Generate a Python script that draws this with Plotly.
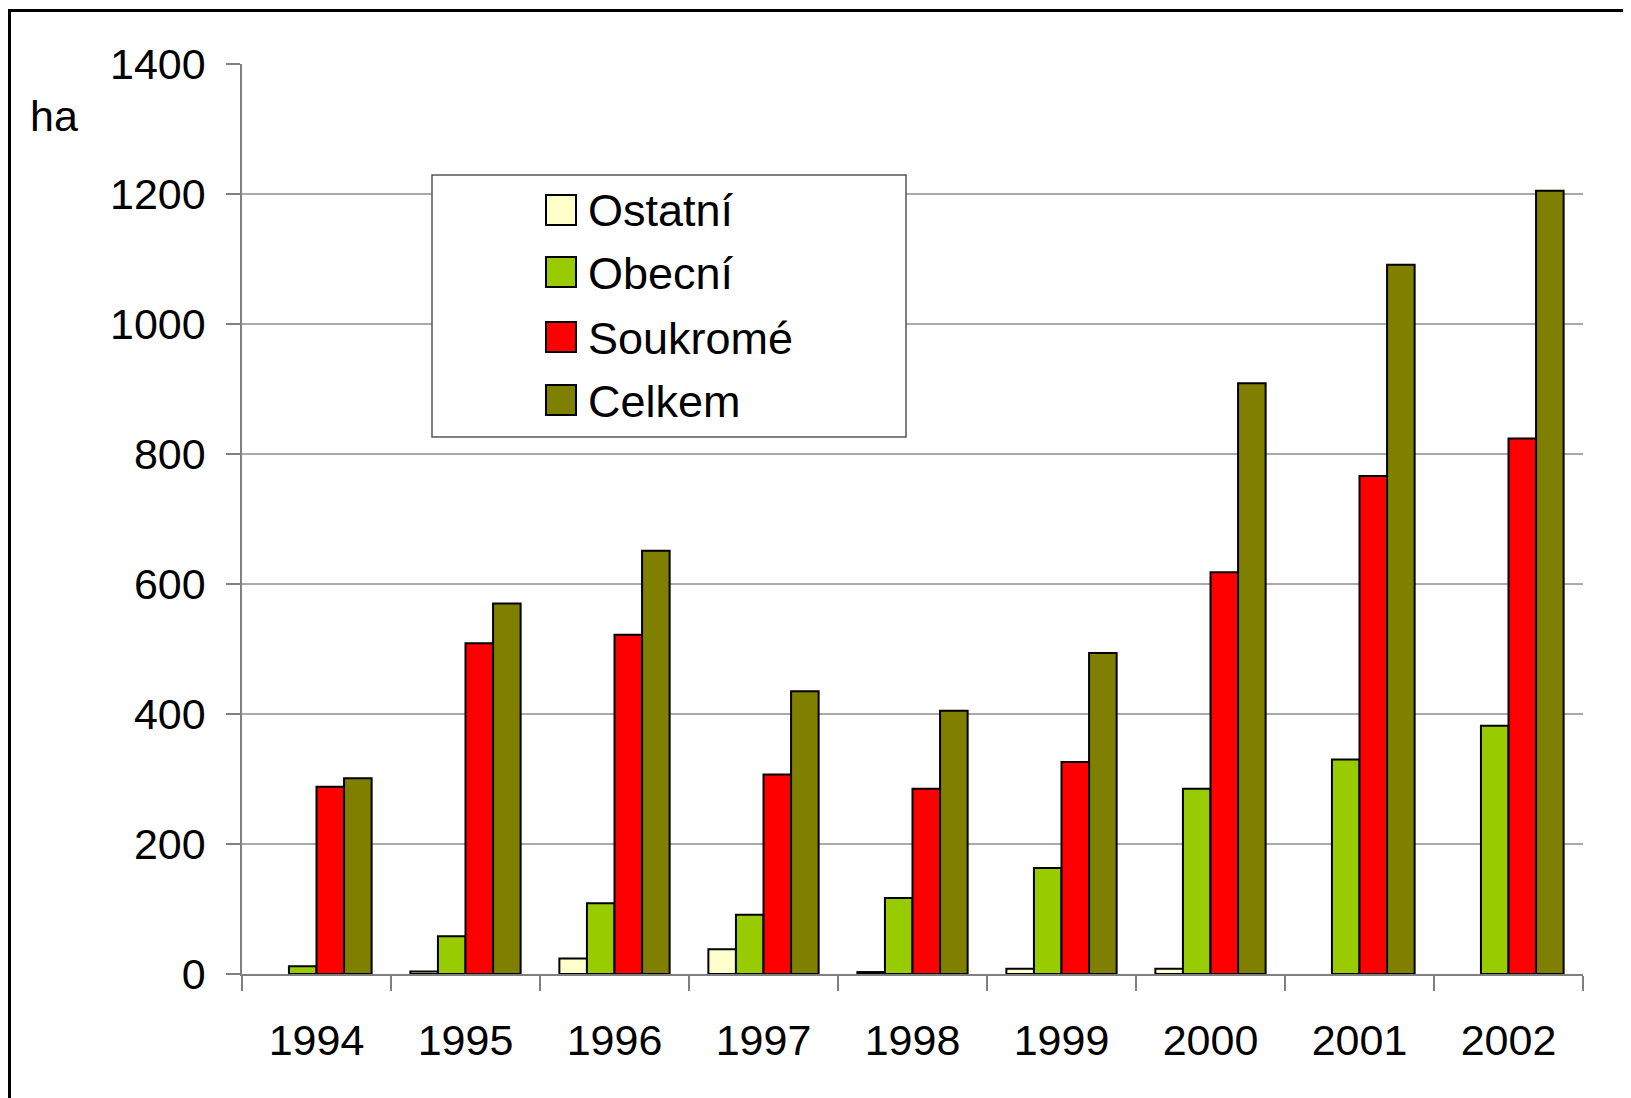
import plotly.graph_objects as go

years = ["1994", "1995", "1996", "1997", "1998", "1999", "2000", "2001", "2002"]
ostatni = [None, 4, 24, 38, 3, 8, 8, None, None]
obecni = [12, 58, 109, 91, 117, 163, 285, 330, 382]
soukrome = [288, 509, 522, 307, 285, 326, 618, 766, 824]
celkem = [301, 570, 651, 435, 405, 494, 909, 1091, 1205]

series_names = ["Ostatní", "Obecní", "Soukromé", "Celkem"]
series_values = [ostatni, obecni, soukrome, celkem]
series_colors = ["#FFFFCC", "#99CC00", "#FF0000", "#808000"]
y_ticks = [0, 200, 400, 600, 800, 1000, 1200, 1400]

OFF = 8  # page body margin
W, H = 1631 - OFF, 1098 - OFF
L, T = 242 - OFF, 64 - OFF
R = 1631 - 1583
B = 1098 - 974
pw, ph = W - L - R, H - T - B
FONT = "Liberation Sans, Arial, sans-serif"


def px(x):
    return (x - OFF - L) / pw


def py(y):
    return (H - B - (y - OFF)) / ph


fig = go.Figure()
for name, vals, col in zip(series_names, series_values, series_colors):
    fig.add_trace(go.Bar(
        name=name, x=years, y=vals, marker_color=col,
        marker_line_color="black", marker_line_width=2, showlegend=False,
    ))

shapes = []
for v in y_ticks[1:-1]:
    shapes.append(dict(type="line", xref="paper", yref="y", x0=0, x1=1, y0=v, y1=v,
                       line=dict(color="#555555", width=1), layer="below"))
# outer frame (top and left edges)
shapes.append(dict(type="line", xref="paper", yref="paper", x0=px(7), x1=px(1660),
                   y0=py(10.5), y1=py(10.5), line=dict(color="black", width=3)))
shapes.append(dict(type="line", xref="paper", yref="paper", x0=px(9.5), x1=px(9.5),
                   y0=py(9), y1=py(1130), line=dict(color="black", width=3)))
# legend box
shapes.append(dict(type="rect", xref="paper", yref="paper", x0=px(432), x1=px(906),
                   y0=py(437), y1=py(175), fillcolor="white",
                   line=dict(color="#555555", width=1.5), layer="above"))
annotations = []
row_centers = [210, 272, 337, 400]
for name, col, cy in zip(series_names, series_colors, row_centers):
    shapes.append(dict(type="rect", xref="paper", yref="paper", x0=px(546), x1=px(576),
                       y0=py(cy + 15), y1=py(cy - 15), fillcolor=col,
                       line=dict(color="black", width=2), layer="above"))
    annotations.append(dict(text=name, xref="paper", yref="paper", x=px(586), y=py(cy + 1),
                            xanchor="left", yanchor="middle", showarrow=False,
                            font=dict(size=45, color="black", family=FONT)))
annotations.append(dict(text="ha", xref="paper", yref="paper", x=px(28), y=py(116),
                        xanchor="left", yanchor="middle", showarrow=False,
                        font=dict(size=43, color="black", family=FONT)))

fig.update_layout(
    width=W, height=H,
    margin=dict(l=L, r=R, t=T, b=B),
    paper_bgcolor="white", plot_bgcolor="white",
    barmode="group", bargap=0.26, bargroupgap=0,
    font=dict(family=FONT, size=43, color="black"),
    shapes=shapes, annotations=annotations,
    xaxis=dict(
        type="category", showline=True, linecolor="#808080", linewidth=1.5,
        ticks="outside", tickson="boundaries", ticklen=15, tickcolor="#808080", tickwidth=1.5,
        showgrid=False, tickfont=dict(size=43), ticklabelstandoff=28,
    ),
    yaxis=dict(
        range=[0, 1400], tickvals=y_ticks, showline=True, linecolor="#808080", linewidth=1.5,
        ticks="outside", ticklen=14, tickcolor="#808080", tickwidth=1.5,
        showgrid=False, zeroline=False, tickfont=dict(size=43), ticklabelstandoff=12,
    ),
)

fig.write_html("out.html")
